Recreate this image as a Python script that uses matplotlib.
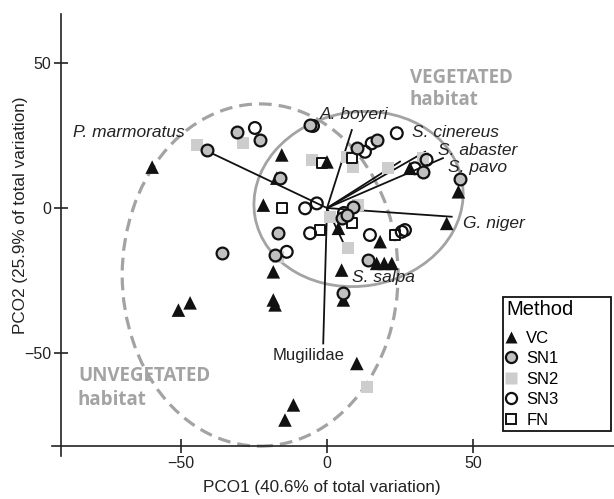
import matplotlib
matplotlib.use('Agg')
import matplotlib.pyplot as plt
from matplotlib.patches import Ellipse
from matplotlib.lines import Line2D

plt.rcParams['font.family'] = ['Liberation Sans', 'DejaVu Sans']

# PCO scores of the samples, one pair of lists per method
vc_x = [-59.9, -15.5, -17.2, -21.8, -18.4, -46.9, -50.9, -18.4, -17.8, -11.5, -14.4,
        0.0, 28.4, 45.0, 41.0, 3.9, 18.2, 17.0, 19.6, 22.2, 5.0, 5.6, 10.2]
vc_y = [14.1, 18.3, 10.3, 1.0, -22.0, -32.7, -35.2, -31.7, -33.4, -67.9, -73.1,
        15.9, 13.7, 5.6, -5.3, -7.0, -11.6, -19.1, -19.1, -19.1, -21.4, -31.7, -53.6]

sn1_x = [-41.2, -30.9, -22.9, -16.1, -5.8, -16.7, -17.8, -36.1, 17.0, 10.2, 33.0,
         45.5, 9.0, 5.0, 6.7, 14.1, 5.6]
sn1_y = [20.0, 26.3, 23.4, 10.2, 28.6, -8.7, -16.2, -15.6, 23.4, 20.6, 12.5,
         9.9, 0.4, -3.6, -2.4, -17.9, -29.2]

sn2_x = [-44.7, -28.7, -5.2, 6.7, 8.9, 21.0, 33.0, 1.0, 7.3, 13.8, 10.6, -16.7]
sn2_y = [21.7, 22.3, 16.6, 17.7, 14.2, 13.7, 17.1, -3.0, -13.9, -61.6, 1.0, -16.8]

sn3_x = [-24.7, -4.8, -7.5, -3.5, -5.8, -13.8, 23.9, 15.3, 13.0, 30.1, 34.1,
         14.7, 25.6, 26.7, 5.8]
sn3_y = [27.6, 28.3, -0.1, 1.6, -8.7, -15.1, 25.8, 22.3, 19.4, 13.7, 16.6,
         -9.3, -8.2, -7.6, -1.7]

fn_x = [-15.5, -1.8, 8.5, 8.5, 23.3, -2.4]
fn_y = [-0.1, 15.4, 17.1, -5.3, -9.3, -7.6]

# species vectors (correlations scaled to the plot)
species = ['P. marmoratus', 'A. boyeri', 'S. cinereus', 'S. abaster', 'S. pavo',
           'G. niger', 'S. salpa', 'Mugilidae']
vec_x = [-38.9, 8.5, 33.6, 39.7, 25.0, 42.7, 6.2, -1.3]
vec_y = [18.6, 26.9, 19.4, 17.2, 16.0, -3.0, -13.3, -46.7]

# label anchor positions for the vectors
lab_x = [-48.6, -2.4, 29.0, 38.0, 41.4, 46.6, 8.5, -6.2]
lab_y = [26.2, 32.1, 25.9, 20.0, 14.1, -5.2, -24.1, -50.7]

grey = '#a3a3a3'

fig = plt.figure(figsize=(6.14, 4.99), dpi=100)
ax = fig.add_axes([52 / 614, 43 / 499, 562 / 614, 442 / 499])

# habitat ellipses
ax.add_patch(Ellipse((-22.9, -23.1), 94.5, 118, fill=False, ec=grey, lw=2.3,
                     ls=(0, (4, 2.2)), zorder=1))
ax.add_patch(Ellipse((10.8, 3.1), 72, 60, angle=10, fill=False, ec=grey, lw=2.0,
                     zorder=1))

# vectors
for i in range(len(species)):
    ax.plot([0, vec_x[i]], [0, vec_y[i]], color='#111111', lw=1.3, zorder=2)
    if species[i] == 'Mugilidae':
        ax.text(lab_x[i], lab_y[i], species[i], ha='center', va='center',
                fontsize=12, color='#222222', zorder=5)
    elif species[i] == 'P. marmoratus':
        ax.text(lab_x[i], lab_y[i], species[i], ha='right', va='center',
                fontsize=12.5, style='italic', color='#222222', zorder=5)
    else:
        ax.text(lab_x[i], lab_y[i], species[i], ha='left', va='center',
                fontsize=12.5, style='italic', color='#222222', zorder=5)

# samples
ax.scatter(sn2_x, sn2_y, marker='s', s=75, c='#cdcdcd', edgecolors='none', zorder=3)
ax.scatter(fn_x, fn_y, marker='s', s=50, facecolors='white', edgecolors='#111111',
           linewidths=1.4, zorder=3)
ax.scatter(vc_x, vc_y, marker='^', s=95, c='#111111', edgecolors='none', zorder=3)
ax.scatter(sn3_x, sn3_y, marker='o', s=72, facecolors='none', edgecolors='#111111',
           linewidths=1.6, zorder=4)
ax.scatter(sn1_x, sn1_y, marker='o', s=72, facecolors='#c0c0c0', edgecolors='#111111',
           linewidths=1.6, zorder=4)

# habitat text
ax.text(28.4, 44.8, 'VEGETATED', fontsize=13.5, fontweight='bold', color=grey,
        family='Open Sans', ha='left', va='center')
ax.text(28.4, 37.2, 'habitat', fontsize=13.5, fontweight='bold', color=grey,
        family='Open Sans', ha='left', va='center')
ax.text(-85.3, -57.9, 'UNVEGETATED', fontsize=13.5, fontweight='bold', color=grey,
        family='Open Sans', ha='left', va='center')
ax.text(-85.3, -66.2, 'habitat', fontsize=13.5, fontweight='bold', color=grey,
        family='Open Sans', ha='left', va='center')

# axes styling
ax.set_xlim(-94.2, 98.3)
ax.set_ylim(-85.5, 66.9)
ax.spines['top'].set_visible(False)
ax.spines['right'].set_visible(False)
ax.spines['left'].set_position(('data', -91))
ax.spines['bottom'].set_position(('data', -82))
for s in ['left', 'bottom']:
    ax.spines[s].set_linewidth(1.2)
    ax.spines[s].set_color('#222222')
ax.set_xticks([-50, 0, 50])
ax.set_yticks([-50, 0, 50])
ax.tick_params(direction='inout', length=10, width=1.2, colors='#222222',
               labelsize=11.5, pad=2)
ax.set_xlabel('PCO1 (40.6% of total variation)', fontsize=12.3, color='#222222')
ax.set_ylabel('PCO2 (25.9% of total variation)', fontsize=12.3, color='#222222')
ax.xaxis.set_label_coords(0.48, -0.055)
ax.yaxis.set_label_coords(-0.043, 0.545)

# legend
handles = [
    Line2D([], [], ls='none', marker='^', ms=9, mfc='#111111', mec='none'),
    Line2D([], [], ls='none', marker='o', ms=8, mfc='#c0c0c0', mec='#111111', mew=1.6),
    Line2D([], [], ls='none', marker='s', ms=8.5, mfc='#cdcdcd', mec='none'),
    Line2D([], [], ls='none', marker='o', ms=8, mfc='none', mec='#111111', mew=1.6),
    Line2D([], [], ls='none', marker='s', ms=6.5, mfc='white', mec='#111111', mew=1.4),
]
leg = ax.legend(handles, ['VC', 'SN1', 'SN2', 'SN3', 'FN'], title='Method',
                loc='lower left', bbox_to_anchor=(503 / 614, 68 / 499, 108 / 614, 136 / 499),
                bbox_transform=fig.transFigure, mode='expand', borderaxespad=0,
                fontsize=12, title_fontsize=14.5, handlelength=0.5, handletextpad=0.7,
                labelspacing=0.33, borderpad=0.2, fancybox=False, framealpha=1,
                alignment='left')
leg._legend_box.sep = 8.5
leg.get_frame().set_edgecolor('#111111')
leg.get_frame().set_linewidth(1.3)
leg.set_zorder(6)

fig.savefig('out.png', dpi=100)
